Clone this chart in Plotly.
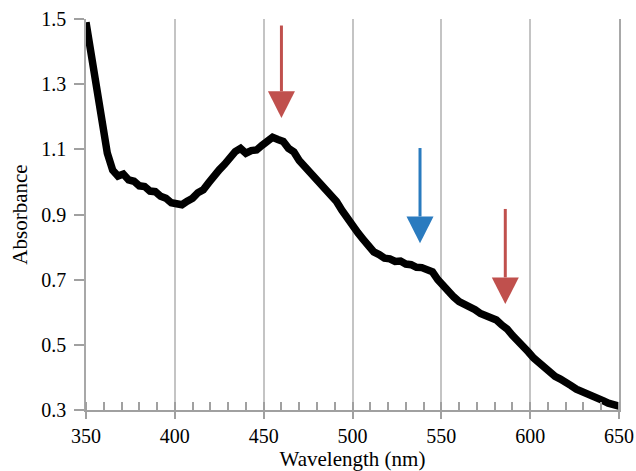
import plotly.graph_objects as go

# absorbance spectrum
wavelength = [350, 353, 356, 359, 362, 365, 368, 371, 374, 377, 380, 383, 386, 389, 392, 395, 398,
              401, 404, 407, 410, 413, 416, 419, 422, 425, 428, 431, 434, 437, 440, 443, 446, 449,
              452, 455, 458, 461, 464, 467, 470, 473, 476, 479, 482, 485, 488, 491, 494, 497, 500,
              503, 506, 509, 512, 515, 518, 521, 524, 527, 530, 533, 536, 539, 542, 545, 548, 551,
              554, 557, 560, 563, 566, 569, 572, 575, 578, 581, 584, 587, 590, 593, 596, 599, 602,
              605, 608, 611, 614, 617, 620, 623, 626, 629, 632, 635, 638, 641, 644, 647, 650]
absorbance = [1.49, 1.385, 1.262, 1.158, 1.088, 1.036, 1.018, 1.024, 1.006, 1.002, 0.988, 0.986, 0.972,
              0.970, 0.956, 0.950, 0.936, 0.933, 0.930, 0.941, 0.950, 0.967, 0.976, 0.997, 1.013,
              1.037, 1.054, 1.077, 1.093, 1.103, 1.088, 1.096, 1.098, 1.112, 1.126, 1.137, 1.130,
              1.124, 1.103, 1.092, 1.066, 1.048, 1.023, 1.007, 0.988, 0.977, 0.956, 0.940, 0.913,
              0.890, 0.860, 0.844, 0.824, 0.807, 0.785, 0.777, 0.766, 0.764, 0.756, 0.757, 0.748,
              0.746, 0.738, 0.737, 0.728, 0.724, 0.700, 0.682, 0.660, 0.647, 0.633, 0.626, 0.614,
              0.608, 0.596, 0.591, 0.581, 0.576, 0.561, 0.549, 0.529, 0.514, 0.494, 0.478, 0.459,
              0.444, 0.429, 0.418, 0.403, 0.395, 0.382, 0.375, 0.364, 0.358, 0.349, 0.343, 0.334,
              0.329, 0.321, 0.318, 0.312]

# arrows: position, start and tip
arrow_x = [460, 538, 586]
arrow_top = [1.48, 1.104, 0.917]
arrow_tip = [1.196, 0.812, 0.625]
arrow_color = ['#c0504d', '#2a7bbf', '#c0504d']

head_h = 0.082
head_w = 7.6

fig = go.Figure()
fig.add_trace(go.Scatter(x=wavelength, y=absorbance, mode='lines',
                         line=dict(color='black', width=7.5), showlegend=False))

for x, top, tip, c in zip(arrow_x, arrow_top, arrow_tip, arrow_color):
    fig.add_shape(type='line', x0=x, x1=x, y0=top, y1=tip + head_h,
                  line=dict(color=c, width=3))
    fig.add_shape(type='path',
                  path=f'M {x - head_w},{tip + head_h} L {x + head_w},{tip + head_h} L {x},{tip} Z',
                  fillcolor=c, line=dict(color=c, width=0))

font = dict(family='Liberation Serif', size=20, color='black')
fig.update_layout(width=636, height=471, plot_bgcolor='white', paper_bgcolor='white',
                  margin=dict(l=86, r=17, t=19, b=61), font=font)
fig.update_xaxes(range=[350, 650], tickvals=[350, 400, 450, 500, 550, 600, 650],
                 automargin=False,
                 showgrid=True, gridcolor='#c4c4c4', gridwidth=1.5,
                 showline=True, linecolor='#a0a0a0', linewidth=2,
                 ticks='outside', ticklen=7, tickcolor='#a0a0a0', tickwidth=1.5,
                 minor=dict(ticks='inside', ticklen=8, dtick=10, tickcolor='#a0a0a0',
                            tickwidth=1.5, showgrid=False),
                 zeroline=False,
                 title=dict(text='Wavelength (nm)', font=dict(size=21), standoff=8))
# mirror gives the grey line at the 650 edge
fig.update_yaxes(range=[0.3, 1.5], tickvals=[0.3, 0.5, 0.7, 0.9, 1.1, 1.3, 1.5],
                 automargin=False, ticklabelstandoff=4,
                 tickformat='.1f', showgrid=False, zeroline=False,
                 showline=True, linecolor='#a8a8a8', linewidth=1.5, mirror=True,
                 ticks='outside', ticklen=10, tickcolor='#a0a0a0', tickwidth=1.5,
                 title=dict(text='Absorbance', font=dict(size=21), standoff=8))
# drop the default page margin so the figure fills the window exactly
fig.write_html("out.html", config={'displayModeBar': False},
               post_script="document.body.style.margin = '0';")
